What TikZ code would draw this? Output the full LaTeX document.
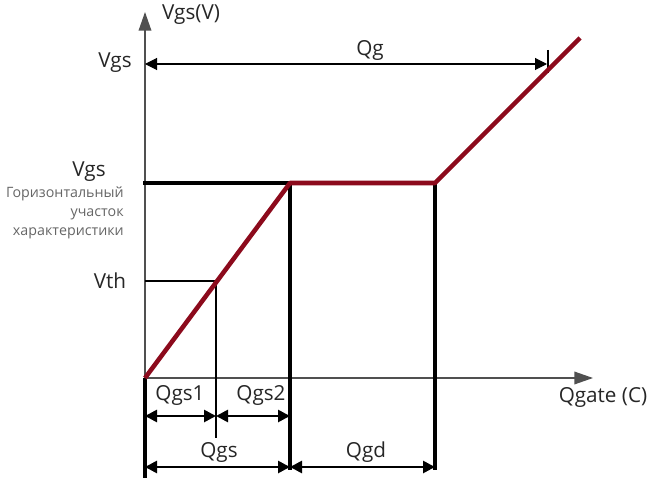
\documentclass[tikz,border=0pt]{standalone}
\usepackage{fontspec}
\setmainfont{Open Sans}
\usepackage{xcolor}
\usetikzlibrary{arrows.meta,positioning}
\definecolor{curvered}{HTML}{8C0A1C}
\definecolor{axisgray}{HTML}{505050}

\begin{document}
\begin{tikzpicture}[x=0.75pt,y=-0.75pt]
  \tikzset{axis/.style = {draw=axisgray, line width=1pt, -{Triangle[length=14pt,width=9.5pt]}}}
  \tikzset{curve/.style = {draw=curvered, line width=3.4pt, line join=round}}
  \tikzset{guide/.style = {draw=black, line width=2.3pt}}
  \tikzset{thinguide/.style = {draw=black, line width=1.8pt}}
  \tikzset{dim/.style = {draw=black, line width=2pt, {Triangle[length=9pt,width=9pt]}-{Triangle[length=9pt,width=9pt]}}}
  \tikzset{lbl/.style = {font=\fontsize{15.5}{18}\selectfont, text=black!85, inner sep=0pt}}
  \tikzset{note/.style = {font=\fontsize{10.7}{14.6}\selectfont, text=black!60, inner sep=0pt}}

  \useasboundingbox (0,0) rectangle (654,478);

  % points of the curve
  \coordinate (O) at (145,378);
  \coordinate (TH) at (216,281);
  \coordinate (K1) at (290,183);
  \coordinate (K2) at (435,183);
  \coordinate (E) at (580,38);

  % guide ends
  \coordinate (YT) at (145,12);
  \coordinate (XT) at (593,378);
  \coordinate (OB) at (145,478);
  \coordinate (VL) at (143,183);
  \coordinate (TL) at (145,281);
  \coordinate (THB) at (216,438);
  \coordinate (K1B) at (290,470);
  \coordinate (K2B) at (435,470);

  % Qg
  \coordinate (GL) at (145,64);
  \coordinate (GR) at (547,64);
  \coordinate (GT) at (548,50);
  \coordinate (GB) at (548,73);

  % dimension lines
  \coordinate (A1) at (145,416);
  \coordinate (A2) at (216,416);
  \coordinate (A3) at (290,416);
  \coordinate (B1) at (145,467);
  \coordinate (B2) at (290,467);
  \coordinate (B3) at (435,467);

  \foreach \from/\to in {O/YT, O/XT}
  \draw[axis] (\from) -- (\to);

  \foreach \from/\to in {O/OB, VL/K1, K1/K1B, K2/K2B}
  \draw[guide] (\from) -- (\to);

  \foreach \from/\to in {TL/TH, TH/THB, GT/GB}
  \draw[thinguide] (\from) -- (\to);

  \draw[line width=0.8pt, {Triangle[length=9pt,width=9pt]}-{Triangle[length=9pt,width=9pt]}] (GL) -- (GR);

  \foreach \from/\to in {A1/A2, A2/A3, B1/B2, B2/B3}
  \draw[dim] (\from) -- (\to);

  \draw[curve] (O) -- (K1) -- (K2) -- (E);

  \node[lbl] (vgsaxis) at (191,15) {Vgs(V)};
  \node[lbl] (vgstop) at (115,63) {Vgs};
  \node[lbl] (vgsplat) at (89,172) {Vgs};
  \node[note, anchor=north east, align=right] (plattext) at (124,186) {Горизонтальный\\участок\\характеристики};
  \node[lbl] (vth) at (110,281) {Vth};
  \node[lbl] (qgate) at (603,397) {Qgate (C)};
  \node[lbl] (qg) at (370,50) {Qg};
  \node[lbl] (qgsone) at (180,395) {Qgs1};
  \node[lbl] (qgstwo) at (261,395) {Qgs2};
  \node[lbl] (qgs) at (219,452) {Qgs};
  \node[lbl] (qgd) at (366,452) {Qgd};

\end{tikzpicture}
\end{document}
